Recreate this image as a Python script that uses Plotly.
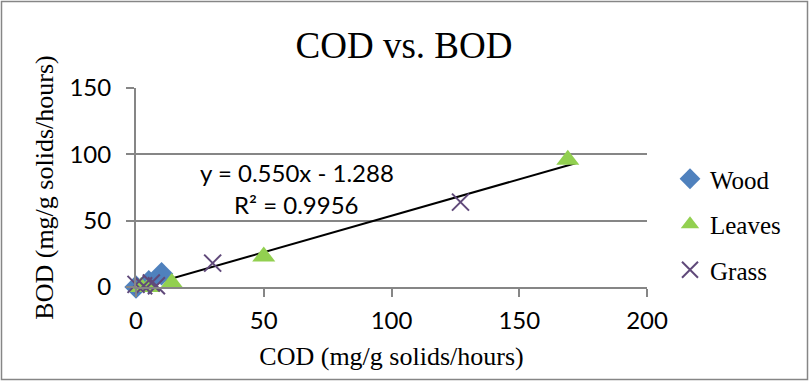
import plotly.graph_objects as go

# COD / BOD rates per sample type (mg/g solids/hours)
wood_cod = [0, 5, 10]
wood_bod = [0, 4, 10]
leaves_cod = [2, 5, 14, 50, 169]
leaves_bod = [0, 0, 3, 23, 96]
grass_cod = [0, 3, 6, 8, 30, 127]
grass_bod = [2, 1, 3, 1, 18, 64]

# Linear fit across all samples
slope = 0.550
intercept = -1.288
r_squared = 0.9956
fit_cod = [1, 172]
fit_bod = [slope * x + intercept for x in fit_cod]

x_ticks = [0, 50, 100, 150, 200]
y_ticks = [0, 50, 100, 150]

W, H = 809, 381
ML, MR, MT, MB = 136, 162, 88, 94
PW, PH = W - ML - MR, H - MT - MB

GRID = "#868686"
SERIF = "Liberation Serif, Times New Roman, serif"
SANS = "Lato, Carlito, Calibri, sans-serif"

fig = go.Figure()

fig.add_trace(go.Scatter(
    x=fit_cod, y=fit_bod, mode="lines", showlegend=False,
    line=dict(color="black", width=2), hoverinfo="skip", cliponaxis=False,
))
fig.add_trace(go.Scatter(
    x=wood_cod, y=wood_bod, mode="markers", name="Wood", legendgroup="w",
    marker=dict(symbol="diamond", size=18, color="#4F81BD"), cliponaxis=False,
))
fig.add_trace(go.Scatter(
    x=leaves_cod, y=leaves_bod, mode="markers", name="Leaves", legendgroup="l",
    marker=dict(symbol="triangle-up", size=20, color="#92D050"), cliponaxis=False,
))
fig.add_trace(go.Scatter(
    x=grass_cod, y=grass_bod, mode="markers", name="Grass", legendgroup="g",
    marker=dict(symbol="x-thin", size=17, color="#60497A",
                line=dict(color="#60497A", width=2)), cliponaxis=False,
))

# trendline equation and goodness of fit
fig.add_annotation(
    x=63, y=86, xref="x", yref="y", showarrow=False,
    text=f"y = {slope:.3f}x - {abs(intercept):.3f}",
    font=dict(family=SANS, size=24, color="black"),
)
fig.add_annotation(
    x=63, y=62, xref="x", yref="y", showarrow=False,
    text=f"R² = {r_squared:.4f}",
    font=dict(family=SANS, size=24, color="black"),
)

# outer chart border
fig.add_shape(
    type="rect", xref="paper", yref="paper",
    x0=(1.5 - ML) / PW, x1=(W - 1.5 - ML) / PW,
    y0=-(MB - 1.5) / PH, y1=1 + (MT - 1.5) / PH,
    line=dict(color=GRID, width=1.5), fillcolor="rgba(0,0,0,0)", layer="below",
)

fig.update_layout(
    width=W, height=H,
    margin=dict(l=ML, r=MR, t=MT, b=MB, autoexpand=False),
    paper_bgcolor="white", plot_bgcolor="white",
    title=dict(text="COD vs. BOD", x=404 / W, xref="container", y=1 - 45 / H,
               yanchor="middle", xanchor="center",
               font=dict(family=SERIF, size=37, color="black")),
    showlegend=True,
    legend=dict(
        x=(670 - ML) / PW, y=1 - (156 - MT) / PH, xanchor="left", yanchor="top",
        font=dict(family=SERIF, size=25, color="black"),
        tracegroupgap=10, traceorder="grouped", bgcolor="rgba(0,0,0,0)",
    ),
    xaxis=dict(
        range=[0, 200], tickvals=x_ticks, showgrid=False, zeroline=False,
        showline=True, linecolor=GRID, linewidth=2,
        ticks="outside", ticklen=8, tickwidth=2, tickcolor=GRID,
        tickfont=dict(family=SANS, size=24, color="black"),
        ticklabelstandoff=3,
        title=dict(text="COD (mg/g solids/hours)", standoff=14,
                   font=dict(family=SERIF, size=26, color="black")),
        fixedrange=True,
    ),
    yaxis=dict(
        range=[0, 150], tickvals=y_ticks, showgrid=True, gridcolor=GRID, gridwidth=2,
        zeroline=False, showline=True, linecolor=GRID, linewidth=2,
        ticks="outside", ticklen=8, tickwidth=2, tickcolor=GRID,
        tickfont=dict(family=SANS, size=24, color="black"),
        ticklabelstandoff=10,
        title=dict(text="BOD (mg/g solids/hours)", standoff=8,
                   font=dict(family=SERIF, size=26, color="black")),
        fixedrange=True,
    ),
)

fig.write_html("out.html")
